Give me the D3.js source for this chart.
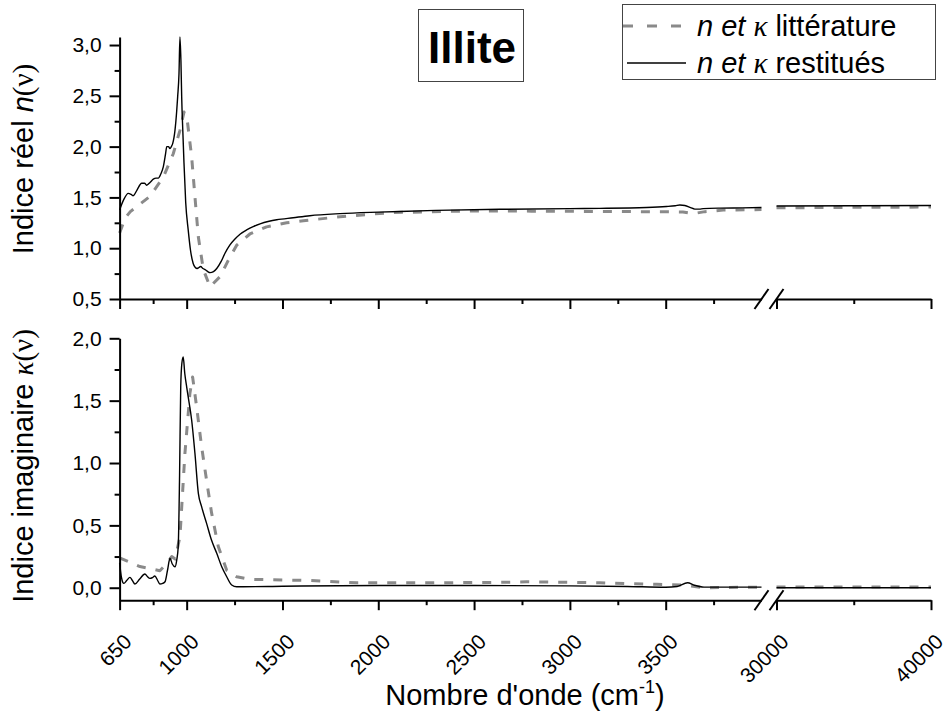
<!DOCTYPE html>
<html><head><meta charset="utf-8">
<script src="https://cdn.jsdelivr.net/npm/d3@7"></script>
<style>
html,body{margin:0;padding:0;background:#fff;}
svg{display:block;}
text{font-family:"Liberation Sans",Arial,sans-serif;fill:#000;}
</style></head>
<body>
<script>
// ---------- DATA ----------
// Segment A (650–4000 cm-1), segment B (30000–40000 cm-1)
const nRestWn = [650,672,695,710,721,740,765,780,791,810,826,840,852,865,878,890,896,905,913,920,927,939,948,953,960,965,970,974,980,986,995,1008,1020,1034,1045,1055,1064,1073,1085,1096,1110,1122,1140,1157,1180,1200,1225,1252,1280,1313,1350,1383,1430,1470,1556,1643,1800,2000,2113,2300,2635,3000,3157,3400,3504,3550,3574,3600,3630,3652,3675,3696,3783,3900,4000];
const nRestVal = [1.376,1.48,1.54,1.53,1.517,1.57,1.64,1.64,1.62,1.65,1.68,1.69,1.69,1.73,1.80,1.93,2.0,2.0,1.98,2.0,2.03,2.16,2.35,2.49,2.72,3.08,2.85,2.49,2.15,1.84,1.45,1.18,0.98,0.85,0.81,0.80,0.81,0.82,0.80,0.79,0.77,0.76,0.77,0.80,0.87,0.95,1.03,1.09,1.14,1.18,1.215,1.24,1.265,1.28,1.30,1.32,1.34,1.355,1.362,1.372,1.383,1.39,1.392,1.40,1.41,1.418,1.425,1.42,1.40,1.385,1.385,1.39,1.395,1.397,1.40];
const nLitWn = [650,680,706,808,878,930,965,986,1003,1026,1043,1061,1087,1122,1174,1217,1261,1330,1417,1522,1609,1800,2061,2460,2800,3331,3590,3643,3705,3800,4000];
const nLitVal = [1.15,1.30,1.36,1.51,1.70,1.93,2.16,2.34,2.26,1.90,1.51,1.11,0.79,0.62,0.72,0.88,1.03,1.14,1.21,1.25,1.27,1.31,1.35,1.366,1.365,1.36,1.357,1.34,1.36,1.375,1.38];
const kRestWn = [650,660,672,688,704,716,730,755,782,795,808,820,834,848,860,875,887,900,913,925,939,948,956,963,969,975,982,990,1000,1008,1026,1043,1061,1078,1104,1130,1157,1183,1209,1235,1261,1295,1500,2000,2500,3000,3300,3500,3560,3614,3650,3700,4000];
const kRestVal = [0.20,0.08,0.035,0.06,0.083,0.06,0.03,0.07,0.11,0.09,0.075,0.08,0.094,0.06,0.03,0.035,0.048,0.14,0.236,0.19,0.168,0.22,0.33,0.9,1.61,1.80,1.85,1.72,1.61,1.53,1.345,1.08,0.757,0.65,0.516,0.38,0.276,0.168,0.088,0.022,0.008,0.008,0.012,0.018,0.018,0.015,0.01,0.004,0.01,0.04,0.02,0.005,0.005];
const kLitWn = [650,756,860,900,922,940,965,991,1017,1031,1052,1078,1104,1130,1165,1209,1261,1330,1643,1887,2287,2635,2775,3157,3453,3591,3696,4000];
const kLitVal = [0.24,0.17,0.136,0.20,0.25,0.23,0.41,1.08,1.56,1.69,1.45,1.13,0.86,0.60,0.33,0.14,0.088,0.067,0.058,0.04,0.04,0.043,0.048,0.04,0.027,0.022,0.0,0.005];
const hiWn = [30000,35000,40000];
const nRestHi = [1.415,1.418,1.42];
const nLitHi = [1.398,1.402,1.405];
const kRestHi = [0.0,0.0,0.0];
const kLitHi = [0.005,0.005,0.005];

const xMajorA = [650,1000,1500,2000,2500,3000,3500];
const xMinorA = [825,1250,1750,2250,2750,3250,3750];
const xMajorB = [30000,40000];
const xMinorB = [35000];
const nTicks = [0.5,1.0,1.5,2.0,2.5,3.0];
const nMinor = [0.75,1.25,1.75,2.25,2.75];
const kTicks = [0.0,0.5,1.0,1.5,2.0];
const kMinor = [0.25,0.75,1.25,1.75];

// ---------- LAYOUT ----------
const W = 949, H = 713;
const svg = d3.select("body").append("svg").attr("width", W).attr("height", H);

const xA = d3.scaleLinear().domain([650, 4000]).range([119.6, 761.5]);
const xB = d3.scaleLinear().domain([30000, 40000]).range([776.5, 931]);
const yN = d3.scaleLinear().domain([0.5, 3.08]).range([299, 36.9]);
const yK = d3.scaleLinear().domain([-0.1, 2.0]).range([600.2, 338.3]);

const fmt = d => d3.format(".1f")(d).replace(".", ",");

function zip(a, b) { return a.map((v, i) => [v, b[i]]); }

function drawLine(data, xs, ys, dashed, curve) {
  const line = d3.line().x(d => xs(d[0])).y(d => ys(d[1])).curve(curve);
  svg.append("path").datum(data).attr("d", line)
    .attr("fill", "none")
    .attr("stroke", dashed ? "#8a8a8a" : "#000")
    .attr("stroke-width", dashed ? 3 : 1.4)
    .attr("stroke-dasharray", dashed ? "9,10" : null)
    .attr("stroke-linejoin", "round");
}

// dashed lines first (underneath)
drawLine(zip(nLitWn, nLitVal), xA, yN, true, d3.curveLinear);
drawLine(zip(hiWn, nLitHi), xB, yN, true, d3.curveLinear);
drawLine(zip(kLitWn, kLitVal), xA, yK, true, d3.curveLinear);
drawLine(zip(hiWn, kLitHi), xB, yK, true, d3.curveLinear);
drawLine(zip(nRestWn, nRestVal), xA, yN, false, d3.curveMonotoneX);
drawLine(zip(hiWn, nRestHi), xB, yN, false, d3.curveMonotoneX);
drawLine(zip(kRestWn, kRestVal), xA, yK, false, d3.curveMonotoneX);
drawLine(zip(hiWn, kRestHi), xB, yK, false, d3.curveMonotoneX);

// ---------- AXES ----------
function styleAxis(g) {
  g.selectAll("path,line").attr("stroke", "#000").attr("stroke-width", 2);
  g.selectAll("text").attr("font-size", 21).attr("font-family", '"Liberation Sans",Arial,sans-serif');
}

// Y axes
[[yN, nTicks, nMinor], [yK, kTicks, kMinor]].forEach(([ys, maj, mn]) => {
  svg.append("g").attr("transform", "translate(119.6,0)")
    .call(d3.axisLeft(ys).tickValues(maj).tickSize(10).tickSizeOuter(0).tickPadding(8).tickFormat(fmt))
    .call(styleAxis);
  svg.append("g").attr("transform", "translate(119.6,0)")
    .call(d3.axisLeft(ys).tickValues(mn).tickSize(5).tickSizeOuter(0).tickFormat(""))
    .call(styleAxis).select(".domain").remove();
});

// X axes (two segments, both panels)
[[yN, 299], [yK, 600.2]].forEach(([ys, ay]) => {
  [[xA, xMajorA, xMinorA], [xB, xMajorB, xMinorB]].forEach(([xs, maj, mn]) => {
    svg.append("g").attr("transform", `translate(0,${ay})`)
      .call(d3.axisBottom(xs).tickValues(maj).tickSize(10).tickSizeOuter(0).tickFormat(""))
      .call(styleAxis);
    svg.append("g").attr("transform", `translate(0,${ay})`)
      .call(d3.axisBottom(xs).tickValues(mn).tickSize(5).tickSizeOuter(0).tickFormat(""))
      .call(styleAxis).select(".domain").remove();
  });
  // break marks
  [xA.range()[1], xB.range()[0]].forEach(cx => {
    svg.append("line").attr("x1", cx - 7).attr("y1", ay + 10).attr("x2", cx + 7).attr("y2", ay - 10)
      .attr("stroke", "#000").attr("stroke-width", 2);
  });
});

// rotated x tick labels (bottom panel only)
const xLabels = xMajorA.map(v => [xA(v), v]).concat(xMajorB.map(v => [xB(v), v]));
svg.append("g").selectAll("text").data(xLabels).join("text")
  .attr("transform", d => `translate(${d[0] + 13.5},643) rotate(-45)`)
  .attr("text-anchor", "end")
  .attr("font-size", 21)
  .text(d => d[1]);

// ---------- TITLES ----------
const t1 = svg.append("text").attr("transform", "translate(33,159) rotate(-90)")
  .attr("text-anchor", "middle").attr("font-size", 29);
t1.append("tspan").text("Indice réel ");
t1.append("tspan").attr("font-style", "italic").text("n");
t1.append("tspan").attr("font-family", '"Liberation Serif",serif').text("(ν)");

const t2 = svg.append("text").attr("transform", "translate(33,466) rotate(-90)")
  .attr("text-anchor", "middle").attr("font-size", 29);
t2.append("tspan").text("Indice imaginaire ");
t2.append("tspan").attr("font-style", "italic").attr("font-family", '"Liberation Serif",serif').text("κ");
t2.append("tspan").attr("font-family", '"Liberation Serif",serif').text("(ν)");

const tx = svg.append("text").attr("x", 525).attr("y", 705).attr("text-anchor", "middle").attr("font-size", 29);
tx.append("tspan").text("Nombre d'onde (cm");
tx.append("tspan").attr("font-size", 18).attr("dy", -12).text("-1");
tx.append("tspan").attr("dy", 12).text(")");

// Illite box
svg.append("rect").attr("x", 418.5).attr("y", 9.5).attr("width", 105).attr("height", 72)
  .attr("fill", "#fff").attr("stroke", "#444").attr("stroke-width", 1);
svg.append("text").attr("x", 472).attr("y", 63).attr("text-anchor", "middle")
  .attr("font-family", "Lato, 'Open Sans', sans-serif").attr("font-weight", "bold").attr("font-size", 44)
  .text("Illite");

// Legend
svg.append("rect").attr("x", 622.5).attr("y", 4.5).attr("width", 313).attr("height", 75)
  .attr("fill", "#fff").attr("stroke", "#444").attr("stroke-width", 1);
const legendItems = [
  {label: "littérature", dashed: true, y: 26},
  {label: "restitués", dashed: false, y: 63}
];
legendItems.forEach(it => {
  svg.append("line").attr("x1", it.dashed ? 623 : 627).attr("x2", it.dashed ? 690 : 686)
    .attr("y1", it.y).attr("y2", it.y)
    .attr("stroke", it.dashed ? "#8a8a8a" : "#000")
    .attr("stroke-width", it.dashed ? 3 : 1.4)
    .attr("stroke-dasharray", it.dashed ? "10,14" : null);
  const t = svg.append("text").attr("x", 697).attr("y", it.y + 10).attr("font-size", 29);
  t.append("tspan").attr("font-style", "italic").text("n et ");
  t.append("tspan").attr("font-style", "italic").attr("font-family", '"Liberation Serif",serif').text("κ");
  t.append("tspan").text(" " + it.label);
});
</script>
</body></html>
